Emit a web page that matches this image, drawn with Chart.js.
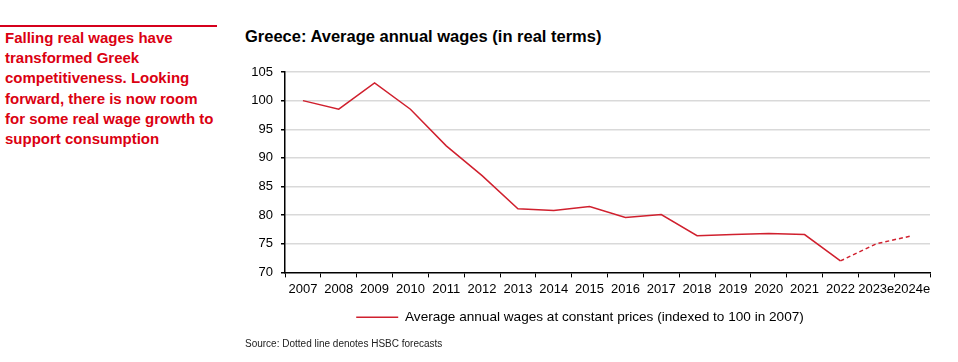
<!DOCTYPE html>
<html>
<head>
<meta charset="utf-8">
<script src="https://cdn.jsdelivr.net/npm/chart.js@4/dist/chart.umd.min.js"></script>
<style>
  html, body { margin: 0; padding: 0; background: #fff; }
  body { width: 958px; height: 362px; position: relative; overflow: hidden; font-family: "Liberation Sans", Arial, sans-serif; }
  .rule { position: absolute; left: 0; top: 25px; width: 217px; height: 0; border-top: 2px solid #d6001c; }
  .lead { position: absolute; left: 5px; top: 28px; width: 215px; color: #db0011; font-weight: bold; font-size: 15px; line-height: 20.2px; }
  .title { position: absolute; left: 245px; top: 27px; font-weight: bold; font-size: 16.5px; color: #000; }
  .source { position: absolute; left: 245px; top: 338px; font-family: "Liberation Sans Narrow", "Liberation Sans", Arial, sans-serif; font-size: 10px; color: #222; }
  #wrap { position: absolute; left: 0; top: 0; width: 958px; height: 362px; }
</style>
</head>
<body>
<div class="rule"></div>
<div class="lead">Falling real wages have transformed Greek competitiveness. Looking forward, there is now room for some real wage growth to support consumption</div>
<div class="title">Greece: Average annual wages (in real terms)</div>
<div id="wrap"><canvas id="wageChart"></canvas></div>
<div class="source">Source: Dotted line denotes HSBC forecasts</div>
<script>
const years = ["2007", "2008", "2009", "2010", "2011", "2012", "2013", "2014", "2015", "2016", "2017", "2018", "2019", "2020", "2021", "2022", "2023e", "2024e"];
const realWages = [100, 98.5, 103.1, 98.5, 92.1, 86.9, 81.1, 80.8, 81.5, 79.6, 80.1, 76.4, 76.6, 76.8, 76.6, 72.0, 75.0, 76.4];
const yTicks = [70, 75, 80, 85, 90, 95, 100, 105];
const forecastFrom = 15; // segments after 2022 are forecasts

const red = "#d0202e";
const grid = "#d9d9d9";
const tickFont = { family: "'Liberation Sans Narrow', 'Liberation Sans', Arial, sans-serif", size: 13 };

new Chart(document.getElementById("wageChart"), {
  type: "line",
  data: {
    labels: years,
    datasets: [{
      label: "Average annual wages at constant prices (indexed to 100 in 2007)",
      data: realWages,
      borderColor: red,
      backgroundColor: red,
      borderWidth: 1.5,
      pointRadius: 0,
      tension: 0,
      segment: {
        borderDash: (ctx) => (ctx.p0DataIndex >= forecastFrom ? [4, 3] : undefined),
      },
    }],
  },
  options: {
    responsive: true,
    maintainAspectRatio: false,
    animation: false,
    layout: { padding: { left: 230, right: 28, top: 72, bottom: 28 } },
    plugins: {
      tooltip: { enabled: false },
      legend: {
        position: "bottom",
        labels: {
          usePointStyle: true,
          pointStyle: "line",
          pointStyleWidth: 42,
          color: "#000",
          font: { family: tickFont.family, size: 13.6 },
          padding: 10,
        },
      },
    },
    scales: {
      x: {
        offset: true,
        grid: { display: true, drawOnChartArea: false, color: "#000", tickLength: 5, offset: true },
        border: { color: "#000", width: 1.5 },
        ticks: { color: "#000", font: tickFont, maxRotation: 0, autoSkip: false, padding: 4 },
        afterFit: (s) => { s.height = 28; },
      },
      y: {
        min: 70,
        max: 105,
        afterBuildTicks: (s) => { s.ticks = yTicks.map((v) => ({ value: v })); },
        grid: { color: (c) => (c.tick && c.tick.value === 70 ? "transparent" : grid), lineWidth: 1.5, tickLength: 4, tickColor: "#000" },
        border: { color: "#000", width: 1.5 },
        ticks: { color: "#000", font: tickFont, padding: 8 },
        afterFit: (s) => { s.width = 55; },
      },
    },
  },
});
</script>
</body>
</html>
